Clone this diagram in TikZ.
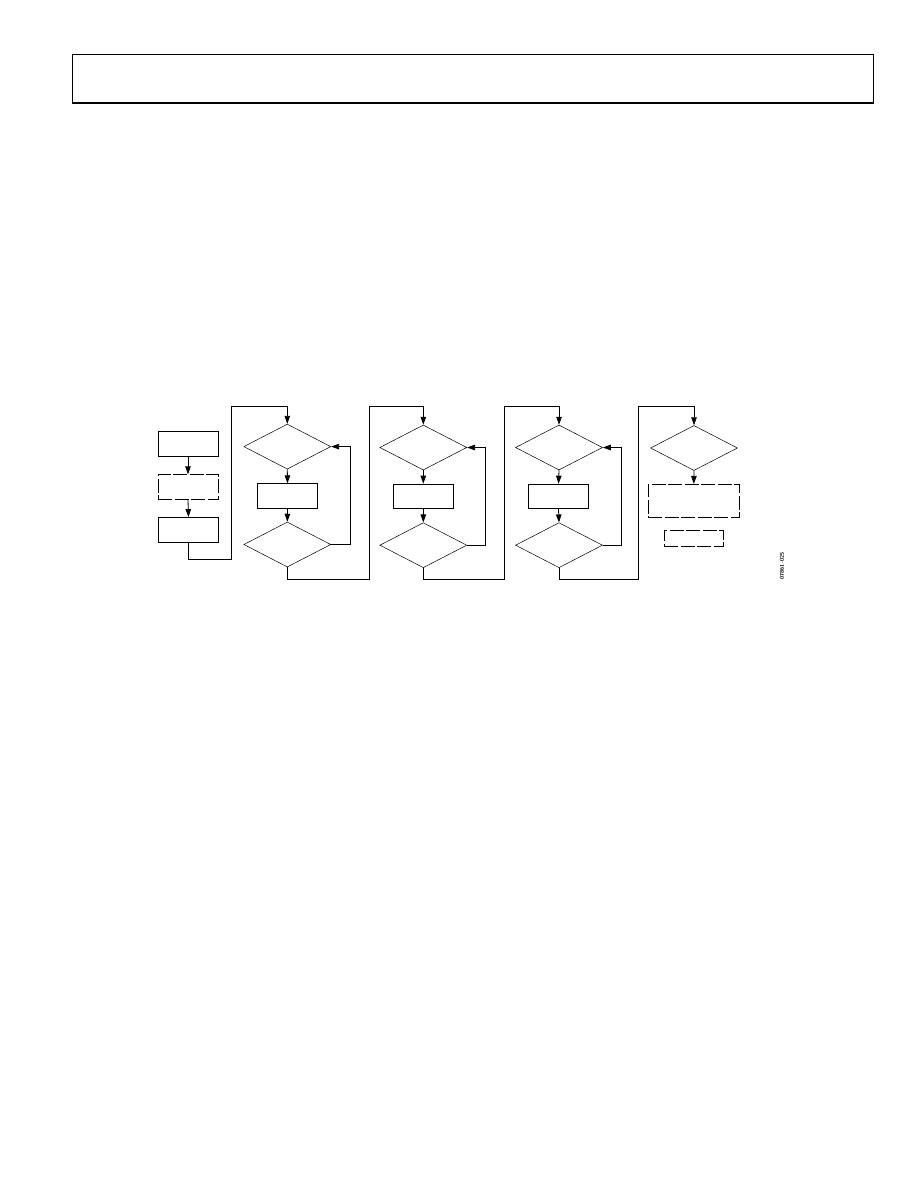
\documentclass[tikz,border=0pt]{standalone}
\usetikzlibrary{shapes.geometric,arrows.meta}
\begin{document}
\begin{tikzpicture}[x=1pt,y=-1pt,
  conn/.style={line width=0.8pt},
  arr/.style={conn,-{Triangle[width=5.5pt,length=8pt]}},
  procbox/.style={draw,line width=0.8pt,minimum width=60pt,minimum height=24.5pt,inner sep=0pt},
  dashbox/.style={procbox,dash pattern=on 14pt off 2.5pt},
  decide/.style={draw,diamond,line width=0.5pt,minimum width=87pt,minimum height=45pt,inner sep=0pt}]
\useasboundingbox (0,0) rectangle (918,1188);
% header
\draw[line width=1pt] (72,103) -- (72,55) -- (873,55) -- (873,103);
\draw[line width=2.2pt] (71.5,103) -- (873.5,103);
% left column
\node[procbox] (b1) at (188,444) {};
\node[dashbox] (b2) at (188,487) {};
\node[procbox] (b3) at (188.5,529.7) {};
\draw[arr] (b1.south) -- (b2.north);
\draw[arr] (b2.south) -- (b3.north);
% column 1
\node[decide] (d11) at (287.3,446.6) {};
\node[procbox] (c1) at (287.5,496) {};
\node[decide] (d12) at (287.3,544.5) {};
% column 2
\node[decide] (d21) at (423.3,447.5) {};
\node[procbox] (c2) at (423.3,496.3) {};
\node[decide] (d22) at (423.3,545.2) {};
% column 3
\node[decide] (d31) at (559,447.5) {};
\node[procbox] (c3) at (558.5,496.3) {};
\node[decide] (d32) at (559,545.2) {};
% column 4
\node[decide] (d41) at (694,448) {};
\node[dashbox,minimum width=91pt,minimum height=33.4pt] (e1) at (693.8,501) {};
\node[dashbox,minimum width=59pt,minimum height=16.7pt] (e2) at (693.8,538.3) {};
% junction coordinates
\coordinate (j0a) at (231,559.7);
\coordinate (j0b) at (231,406.5);
\coordinate (j1a) at (369,579.3);
\coordinate (j1b) at (369,406.5);
\coordinate (j2a) at (504,579.3);
\coordinate (j2b) at (504,406.5);
\coordinate (j3a) at (638.3,579.3);
\coordinate (j3b) at (638.3,406.5);
\coordinate (l1) at (350,446.6);
\coordinate (l2) at (485.3,447.5);
\coordinate (l3) at (621.7,447.5);
% connectors
\draw[arr] (b3.south) |- (j0a) -- (j0b) -| (d11.north);
\draw[arr] (d11.south) -- (c1.north);
\draw[arr] (c1.south) -- (d12.north);
\draw[arr] (d12.east) -| (l1) -- (d11.east);
\draw[arr] (d12.south) |- (j1a) -- (j1b) -| (d21.north);
\draw[arr] (d21.south) -- (c2.north);
\draw[arr] (c2.south) -- (d22.north);
\draw[arr] (d22.east) -| (l2) -- (d21.east);
\draw[arr] (d22.south) |- (j2a) -- (j2b) -| (d31.north);
\draw[arr] (d31.south) -- (c3.north);
\draw[arr] (c3.south) -- (d32.north);
\draw[arr] (d32.east) -| (l3) -- (d31.east);
\draw[arr] (d32.south) |- (j3a) -- (j3b) -| (d41.north);
\draw[arr] (d41.south) -- (e1.north);
% figure id
\node[rotate=90,font=\sffamily\bfseries\fontsize{5.5}{6}\selectfont,inner sep=0pt] (fid) at (782,566) {07861-025};
\end{tikzpicture}
\end{document}
